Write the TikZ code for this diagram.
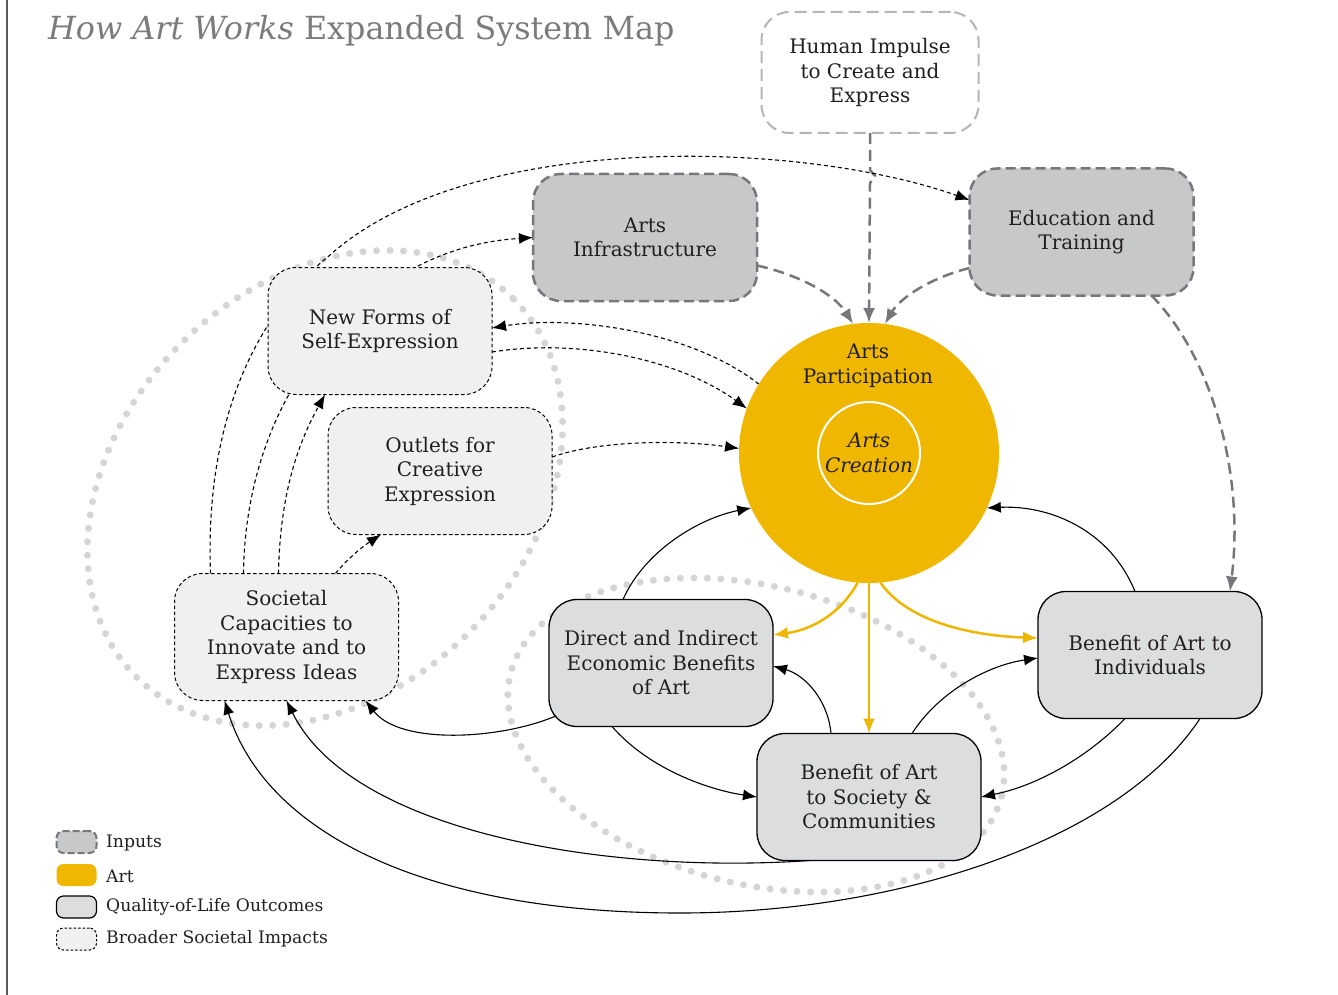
\documentclass[tikz,border=0pt]{standalone}
\usepackage{fontspec}
\setmainfont{DejaVu Serif}
\usetikzlibrary{arrows.meta,calc}
\definecolor{gold}{HTML}{EFB700}
\definecolor{inputfill}{HTML}{C7C8CA}
\definecolor{inputedge}{HTML}{76777A}
\definecolor{qolfill}{HTML}{DCDDDE}
\definecolor{broadfill}{HTML}{F0F0F0}
\definecolor{dotgray}{HTML}{D5D5D5}
\definecolor{impedge}{HTML}{B5B5B5}
\definecolor{titlegray}{HTML}{7B7B7B}
\definecolor{txt}{HTML}{231F20}
\newcommand\mynodefont{\fontsize{20}{24.5}\selectfont}
\newcommand\mylegfont{\fontsize{17.2}{18}\selectfont}
\pgfdeclarelayer{bg}
\pgfsetlayers{bg,main}
\begin{document}
\begin{tikzpicture}[x=1pt,y=-1pt,
  box/.style={rounded corners=28pt, minimum width=224pt, minimum height=127pt, align=center, font=\mynodefont, text=txt, inner sep=0pt, outer sep=0pt},
  inputbox/.style={box, fill=inputfill, draw=inputedge, line width=2.5pt, dash pattern=on 10pt off 5pt},
  qolbox/.style={box, fill=qolfill, draw=black, line width=1.3pt},
  broadbox/.style={box, fill=broadfill, draw=black, line width=1pt, dash pattern=on 3.5pt off 2.5pt},
  impbox/.style={box, minimum width=217pt, minimum height=121pt, fill=white, draw=impedge, line width=2pt, dash pattern=on 12pt off 6pt},
  dotring/.style={draw=dotgray, line width=7pt, line cap=round, dash pattern=on 0pt off 13.5pt},
  gconn/.style={draw=inputedge, line width=2.5pt, dash pattern=on 11pt off 6pt, -{Latex[length=15pt,width=12pt]}},
  sconn/.style={draw=black, line width=1.1pt, -{Latex[length=14pt,width=11pt]}},
  dconn/.style={sconn, dash pattern=on 4pt off 3pt},
  yconn/.style={draw=gold, line width=2.5pt, -{Latex[length=15pt,width=12pt]}},
  legicon/.style={rounded corners=7pt, minimum width=40pt, minimum height=22pt, inner sep=0pt},
  legtext/.style={anchor=west, font=\mylegfont, text=txt, inner sep=0pt}
]
\useasboundingbox (0,0) rectangle (1338,995);
\draw[line width=1.5pt, color=black!65] (7,0) -- (7,995);

% title
\node[anchor=west, inner sep=0pt, text=titlegray, font=\fontsize{31.8}{36}\selectfont] (title) at (48,31) {\itshape How Art Works\upshape{} Expanded System Map};

% nodes
\node[impbox] (imp) at (870,72.5) {Human Impulse\\to Create and\\Express};
\node[inputbox] (infra) at (645,237.5) {Arts\\Infrastructure};
\node[inputbox] (edu) at (1081.5,232) {Education and\\Training};
\node[circle, fill=gold, minimum size=260pt, inner sep=0pt, outer sep=0pt] (part) at (869,453) {};
\node[align=center, font=\mynodefont, text=txt, inner sep=0pt] (parttext) at (868,366) {Arts\\Participation};
\node[circle, draw=white, line width=2pt, minimum size=102pt, inner sep=0pt, align=center, font=\mynodefont\itshape, text=txt] (create) at (869,453) {Arts\\Creation};
\node[broadbox] (newf) at (380,331) {New Forms of\\Self-Expression};
\node[broadbox] (outl) at (440,471) {Outlets for\\Creative\\Expression};
\node[broadbox] (soc) at (286.5,637) {Societal\\Capacities to\\Innovate and to\\Express Ideas};
\node[qolbox] (dir) at (661,663) {Direct and Indirect\\Economic Benefits\\of Art};
\node[qolbox] (ind) at (1150,655) {Benefit of Art to\\Individuals};
\node[qolbox] (socb) at (869,797) {Benefit of Art\\to Society \&\\Communities};

% legend
\node[legicon, fill=inputfill, draw=inputedge, line width=2pt, dash pattern=on 7pt off 3pt] (li) at (76.5,842) {};
\node[legtext] (lit) at (106,843) {Inputs};
\node[legicon, fill=gold] (la) at (76.5,875) {};
\node[legtext] (lat) at (106,876) {Art};
\node[legicon, fill=qolfill, draw=black, line width=1.2pt] (lq) at (76.5,907) {};
\node[legtext] (lqt) at (106,907) {Quality-of-Life Outcomes};
\node[legicon, fill=broadfill, draw=black, line width=1pt, dash pattern=on 2.5pt off 2pt] (lb) at (76.5,939) {};
\node[legtext] (lbt) at (106,939) {Broader Societal Impacts};

\begin{pgfonlayer}{bg}
% dotted rings
\draw[dotring] (325,488) ellipse[x radius=267, y radius=204, rotate=45];
\draw[dotring] (756,735) ellipse[x radius=253, y radius=149, rotate=-14];

% gray input connectors
\draw[gconn] (imp.south) -- ++(0,37) -- ++(5,6) -- ++(-5,7) -- (part.north);
\draw[gconn] ([yshift=-28pt]infra.east) .. controls (800,275) and (835,295) .. (part.97);
\draw[gconn] ([yshift=-36pt]edu.west) .. controls (930,278) and (900,298) .. (part.83);
\draw[gconn] ([xshift=70pt]edu.south) .. controls (1210,355) and (1245,470) .. ([xshift=80pt]ind.north);

% dashed (broader impacts) connectors
\draw[dconn] ([xshift=-76pt]soc.north) .. controls (205,430) and (250,320) .. (330,255) .. controls (470,130) and (800,140) .. ([yshift=32pt]edu.west);
\draw[dconn] ([xshift=-43pt]soc.north) .. controls (245,450) and (300,330) .. (420,265) .. controls (460,245) and (495,240) .. (infra.west);
\draw[dconn] ([xshift=-8pt]soc.north) .. controls (280,490) and (300,440) .. ([xshift=-55pt]newf.south);
\draw[dconn] ([xshift=49pt]soc.north) .. controls (350,556) and (365,545) .. ([xshift=-59pt]outl.south);
\draw[dconn] (part.148) .. controls (690,330) and (570,315) .. ([yshift=3pt]newf.east);
\draw[dconn] ([yshift=-21pt]newf.east) .. controls (580,338) and (680,360) .. (part.160);
\draw[dconn] ([yshift=14pt]outl.east) .. controls (600,440) and (680,440) .. (part.178);

% solid connectors
\draw[sconn] ([xshift=-38pt]dir.north) .. controls (645,550) and (700,518) .. (part.205);
\draw[sconn] ([xshift=-15pt]ind.north) .. controls (1110,530) and (1050,505) .. (part.335);
\draw[sconn] ([shift={(8pt,11pt)}]dir.south west) .. controls (500,740) and (400,745) .. ([xshift=-33pt]soc.south east);
\draw[sconn] ([xshift=-49pt]dir.south) .. controls (650,770) and (710,790) .. (socb.west);
\draw[sconn] ([xshift=-38pt]socb.north) .. controls (828,700) and (805,675) .. ([yshift=-3pt]dir.east);
\draw[sconn] ([xshift=43pt]socb.north) .. controls (940,690) and (990,665) .. ([yshift=-3pt]ind.west);
\draw[sconn] ([xshift=-25pt]ind.south) .. controls (1090,755) and (1040,785) .. (socb.east);
\draw[sconn] ([xshift=-59pt]socb.south) .. controls (600,875) and (350,830) .. (soc.south);
\draw[sconn] ([xshift=50pt]ind.south) .. controls (1120,840) and (900,913) .. (680,913) .. controls (420,913) and (265,830) .. ([xshift=-62pt]soc.south);

% gold connectors
\draw[yconn] (part.265) .. controls (840,615) and (810,630) .. ([yshift=28pt]dir.east);
\draw[yconn] (part.south) -- (socb.north);
\draw[yconn] (part.275) .. controls (910,625) and (980,636) .. ([yshift=17pt]ind.west);
\end{pgfonlayer}
\end{tikzpicture}
\end{document}
